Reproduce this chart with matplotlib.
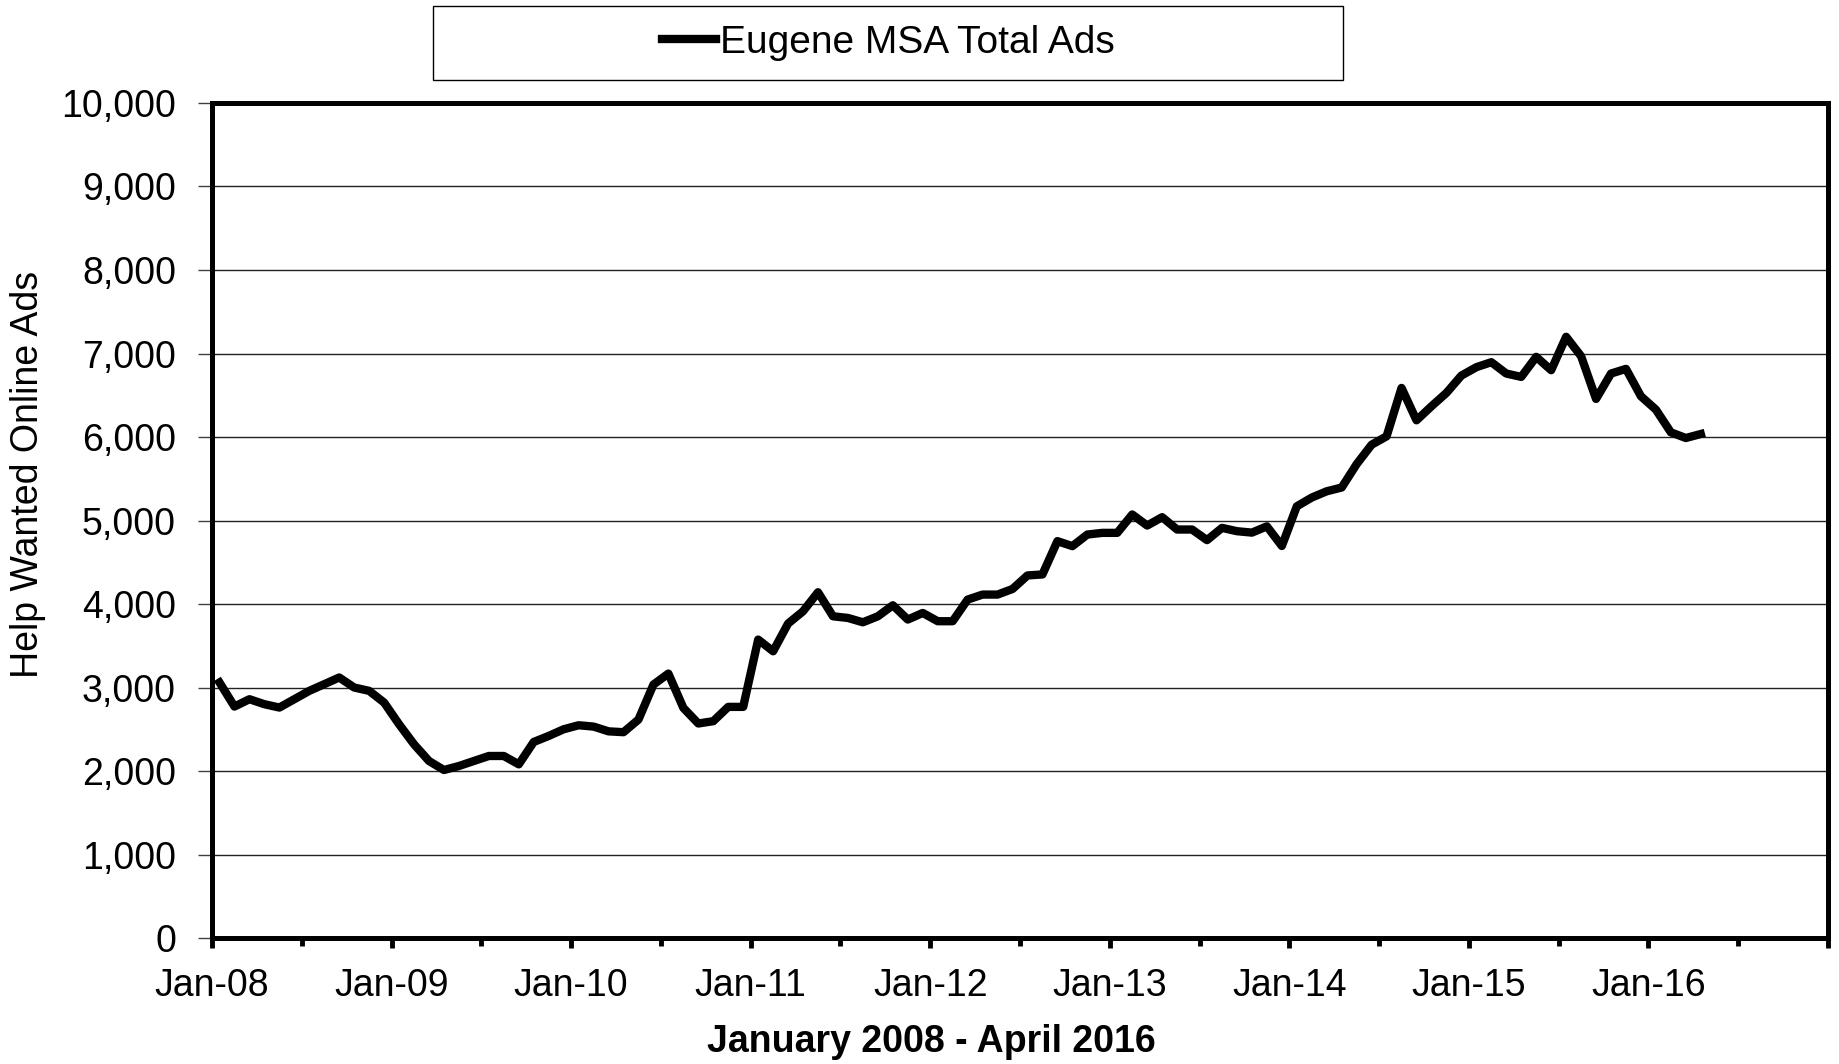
import matplotlib
matplotlib.use('Agg')
import matplotlib.pyplot as plt
from matplotlib.patches import Rectangle
from matplotlib.ticker import FuncFormatter, MultipleLocator
import numpy as np

plt.rcParams['font.family'] = ['Liberation Sans', 'DejaVu Sans']

# Monthly help wanted online ads, Jan 2008 - Apr 2016
ads = [
    3060, 2772, 2860, 2800, 2760, 2860, 2960, 3040, 3120, 3000, 2960, 2820,  # 2008
    2560, 2320, 2120, 2012, 2060, 2120, 2180, 2180, 2080, 2348, 2420, 2500,  # 2009
    2548, 2532, 2475, 2465, 2616, 3035, 3167, 2756, 2569, 2597, 2768, 2768,  # 2010
    3574, 3434, 3766, 3913, 4141, 3853, 3833, 3781, 3853, 3985, 3814, 3893,  # 2011
    3794, 3794, 4053, 4113, 4113, 4180, 4342, 4354, 4753, 4693, 4832, 4852,  # 2012
    4852, 5072, 4940, 5040, 4892, 4892, 4765, 4912, 4872, 4855, 4930, 4695,  # 2013
    5170, 5275, 5350, 5395, 5675, 5908, 6008, 6588, 6200, 6368, 6528, 6736,  # 2014
    6836, 6896, 6760, 6720, 6960, 6800, 7200, 6968, 6456, 6760, 6816, 6488,  # 2015
    6328, 6056, 5988, 6036,                                                  # 2016
]
year_labels = ['Jan-08', 'Jan-09', 'Jan-10', 'Jan-11', 'Jan-12',
               'Jan-13', 'Jan-14', 'Jan-15', 'Jan-16', '']

FS = 27

fig = plt.figure(figsize=(18.39, 10.64), dpi=100)
ax = fig.add_axes([0.1153, 0.1184, 0.994 - 0.1153, 0.9032 - 0.1184])

# points sit in the middle of each month
x = np.arange(len(ads)) + 0.5
line, = ax.plot(x, ads, color='black', lw=6, label='Eugene MSA Total Ads', zorder=3)

ax.set_xlim(0, 108)
ax.set_ylim(0, 10000)

ax.set_xticks(np.arange(0, 109, 12))
ax.set_xticklabels(year_labels)
ax.xaxis.set_minor_locator(MultipleLocator(6))
ax.yaxis.set_major_locator(MultipleLocator(1000))
ax.yaxis.set_major_formatter(FuncFormatter(lambda v, p: f'{int(v):,}'))

ax.tick_params(axis='x', which='major', direction='out', length=7.5, width=3.5,
               labelsize=FS, pad=14)
ax.tick_params(axis='x', which='minor', direction='out', length=6, width=3.5)
ax.tick_params(axis='y', direction='out', length=10, width=1, color='#404040',
               labelsize=FS, pad=16)

ax.grid(axis='y', color='#222222', lw=1)
ax.set_axisbelow(True)
for s in ax.spines.values():
    s.set_linewidth(3.6)
    s.set_color('black')

ax.set_ylabel('Help Wanted Online Ads', fontsize=FS)
ax.yaxis.set_label_coords(-0.103, 0.555)
ax.set_xlabel('January 2008 - April 2016', fontsize=FS, fontweight='bold')
ax.xaxis.set_label_coords(0.445, -0.103)

# legend box on top
fig.patches.append(Rectangle((0.2354, 0.925), 0.4949, 0.0694, transform=fig.transFigure,
                             fill=False, edgecolor='black', lw=1))
fig.legend(handles=[line], loc='center', bbox_to_anchor=(0.4829, 0.9596),
           frameon=False, fontsize=28, handlelength=1.4, handletextpad=0.1)

fig.savefig('out.png', dpi=100)
